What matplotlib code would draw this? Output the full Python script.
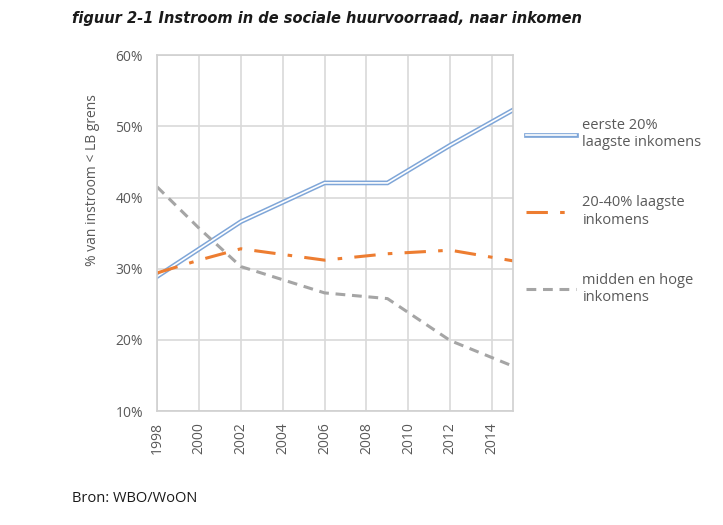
import matplotlib
matplotlib.use("Agg")
import matplotlib.pyplot as plt
from matplotlib.legend_handler import HandlerTuple

# data
years_blue = [1998, 2002, 2006, 2009, 2012, 2015]
eerste20 = [28.9, 36.6, 42.05, 42.05, 47.35, 52.3]

years_orange = [1998, 2000, 2002, 2006, 2009, 2012, 2015]
twintig40 = [29.4, 31.2, 32.8, 31.2, 32.1, 32.6, 31.1]

years_grey = [1998, 2000, 2002, 2006, 2009, 2012, 2015]
midden_hoog = [41.5, 35.7, 30.3, 26.6, 25.8, 19.9, 16.3]

xticks = list(range(1998, 2015, 2))
yticks = [10, 20, 30, 40, 50, 60]

labels = ["eerste 20%\nlaagste inkomens", "20-40% laagste\ninkomens",
          "midden en hoge\ninkomens"]

txt = "#595959"
plt.rcParams['font.family'] = ['Open Sans', 'DejaVu Sans']

fig = plt.figure(figsize=(7.23, 5.25), dpi=100)
ax = fig.add_axes([0.2172, 0.217, 0.4925, 0.678])

b1, = ax.plot(years_blue, eerste20, color="#7FA6D8", lw=3.4, solid_joinstyle="miter")
b2, = ax.plot(years_blue, eerste20, color="white", lw=1.2, solid_joinstyle="miter")
o, = ax.plot(years_orange, twintig40, color="#ED7D31", lw=2.2,
             dashes=(7, 4, 1.5, 4))
g, = ax.plot(years_grey, midden_hoog, color="#A5A5A5", lw=2.2, dashes=(3.2, 2.2))

ax.set_xlim(1998, 2015)
ax.set_ylim(10, 60)
ax.set_xticks(xticks)
ax.set_xticklabels([str(y) for y in xticks], rotation=90)
ax.set_yticks(yticks)
ax.set_yticklabels([f"{v}%" for v in yticks])
ax.grid(True, color="#D9D9D9", lw=1.2)
ax.set_axisbelow(True)
for s in ax.spines.values():
    s.set_color("#D0D0D0")
    s.set_linewidth(1.2)
ax.tick_params(length=0, colors=txt, labelsize=10)
ax.tick_params(axis="x", pad=8)
ax.tick_params(axis="y", pad=10)
ax.set_ylabel("% van instroom < LB grens", color=txt, fontsize=10)
ax.yaxis.set_label_coords(-0.16, 0.649)

leg = ax.legend([(b1, b2), o, g], labels,
                handler_map={tuple: HandlerTuple(ndivide=1, pad=0)},
                loc="upper left", bbox_to_anchor=(1.0, 0.86), frameon=False,
                fontsize=10.5, labelspacing=3.1, handlelength=3.4,
                handletextpad=0.45, borderaxespad=0.5)
for t in leg.get_texts():
    t.set_color(txt)

fig.text(0.1, 0.965, "figuur 2-1 Instroom in de sociale huurvoorraad, naar inkomen",
         family="DejaVu Sans", fontsize=10.5, fontweight="bold",
         fontstyle="italic", color="#1a1a1a", ha="left", va="center")
fig.text(0.1, 0.05, "Bron: WBO/WoON", fontsize=10.5, color="#1a1a1a",
         ha="left", va="center")

fig.savefig("out.png", dpi=100)
